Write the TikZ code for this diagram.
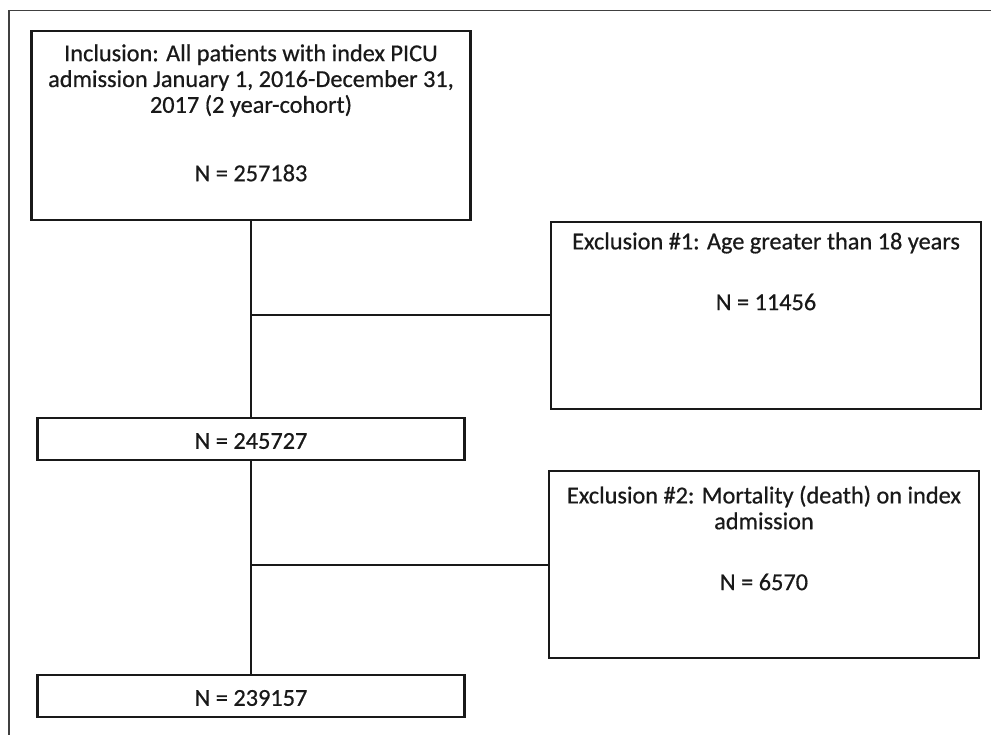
\documentclass[tikz,border=0pt]{standalone}
\usepackage{fontspec}
\setmainfont[FakeBold=0.6]{Carlito}
\begin{document}
\begin{tikzpicture}[x=1pt,y=-1pt,
  box/.style={draw=black!90,line width=2.2pt,rectangle,inner sep=0pt},
  txt/.style={inner sep=0pt,align=center,text=black!90,font=\fontsize{24.3}{25.8}\selectfont},
  conn/.style={draw=black!90,line width=2pt}]
\useasboundingbox (0,0) rectangle (991,735);
\fill[white] (0,0) rectangle (991,735);
\draw[line width=1.8pt,black!75] (9,735) -- (9,10.5) -- (991,10.5);
% main column
\node[box,minimum width=439pt,minimum height=189pt] (incl) at (251,125.5) {};
\node[txt] (inclT) at (251,80.5) {Inclusion: All patients with index PICU\\admission January 1, 2016-December 31,\\2017 (2 year-cohort)};
\node[txt] (inclN) at (251,173) {N = 257183};
\node[box,minimum width=427pt,minimum height=42pt] (n1) at (251,439) {};
\node[txt] (n1T) at (251,441) {N = 245727};
\node[box,minimum width=427pt,minimum height=42pt] (n2) at (251,696) {};
\node[txt] (n2T) at (251,698) {N = 239157};
% exclusions
\node[box,minimum width=430pt,minimum height=187pt] (ex1) at (766,315.5) {};
\node[txt] (ex1T) at (766,243) {Exclusion \#1: Age greater than 18 years};
\node[txt] (ex1N) at (766,302) {N = 11456};
\node[box,minimum width=430pt,minimum height=187pt] (ex2) at (764,564.5) {};
\node[txt] (ex2T) at (764,507.5) {Exclusion \#2: Mortality (death) on index\\admission};
\node[txt] (ex2N) at (764,582) {N = 6570};
% connectors
\draw[conn] (incl.south) -- (n1.north);
\draw[conn] (n1.south) -- (n2.north);
\draw[conn] (incl.south |- ex1.west) -- (ex1.west);
\draw[conn] (n1.south |- ex2.west) -- (ex2.west);
\end{tikzpicture}
\end{document}
